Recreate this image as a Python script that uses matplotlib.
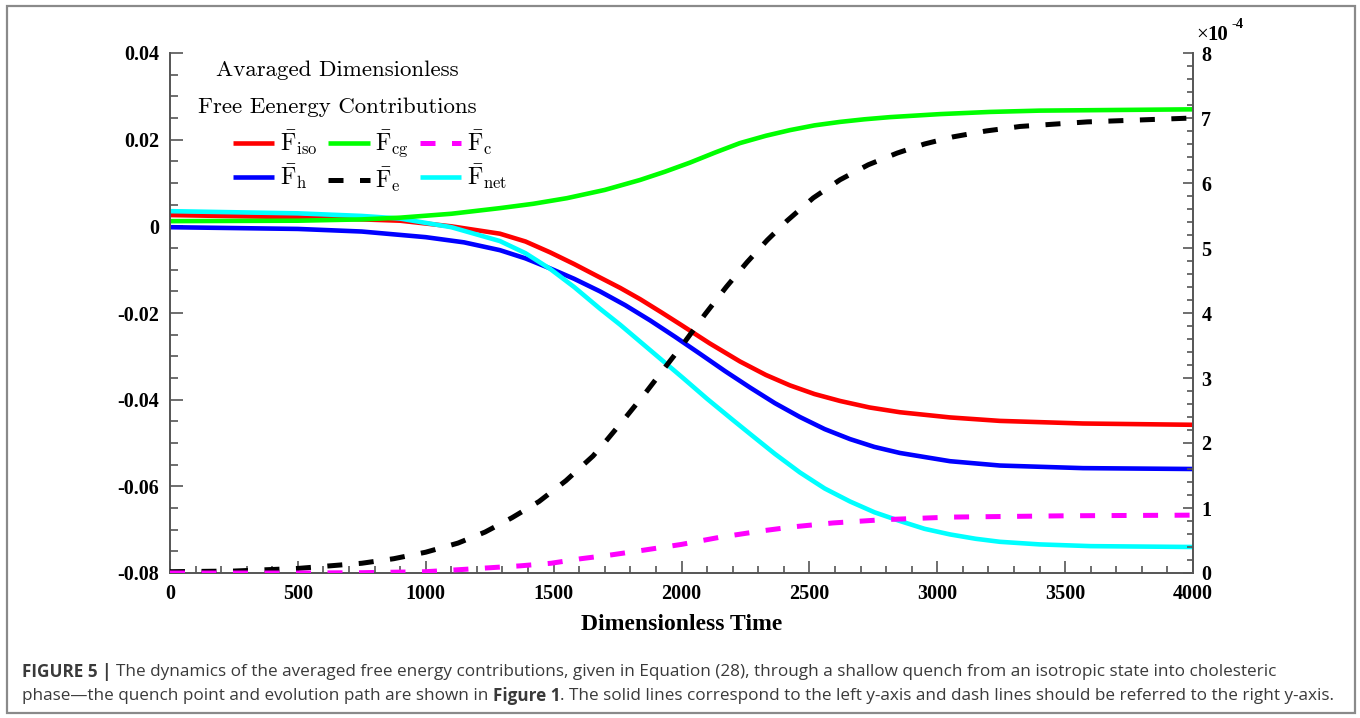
import numpy as np
import matplotlib
matplotlib.use("Agg")
import matplotlib.pyplot as plt
from matplotlib.patches import Rectangle
from matplotlib.ticker import MultipleLocator, FuncFormatter

# Averaged free energy contributions (left axis, solid lines)
t_iso = [0, 500, 900, 1100, 1290, 1390, 1486, 1580, 1681, 1760, 1838, 1920, 2000, 2110, 2229,
         2330, 2424, 2520, 2620, 2735, 2854, 3050, 3245, 3570, 4000]
f_iso = [0.0026, 0.0021, 0.0013, 0.0, -0.0017, -0.0035, -0.006, -0.0087, -0.0118, -0.0142,
         -0.0168, -0.0198, -0.0228, -0.027, -0.0312, -0.0343, -0.0367, -0.0387, -0.0403,
         -0.0418, -0.0429, -0.0441, -0.0449, -0.0455, -0.0458]

t_h = [0, 500, 750, 1000, 1150, 1290, 1390, 1486, 1580, 1681, 1780, 1877, 1975, 2072, 2170,
       2268, 2365, 2463, 2560, 2659, 2754, 2854, 3050, 3245, 3570, 4000]
f_h = [-0.0002, -0.0006, -0.0012, -0.0025, -0.0037, -0.0055, -0.0074, -0.0097, -0.0121, -0.015,
       -0.0182, -0.0217, -0.0255, -0.0294, -0.0334, -0.0372, -0.0408, -0.044, -0.0468, -0.0491,
       -0.0509, -0.0523, -0.0542, -0.0552, -0.0558, -0.056]

t_net = [0, 500, 750, 899, 1100, 1290, 1390, 1486, 1580, 1681, 1760, 1838, 1920, 2006, 2100,
         2201, 2268, 2365, 2463, 2560, 2659, 2755, 2854, 2950, 3050, 3150, 3245, 3400, 3600, 4000]
f_net = [0.0035, 0.003, 0.0024, 0.0018, -0.0002, -0.0034, -0.0062, -0.0098, -0.014, -0.019,
         -0.0227, -0.0266, -0.0307, -0.035, -0.0398, -0.0447, -0.0479, -0.0525, -0.0568,
         -0.0605, -0.0635, -0.066, -0.068, -0.0698, -0.0711, -0.0721, -0.0728, -0.0734,
         -0.0738, -0.074]

t_cg = [0, 500, 750, 900, 1100, 1290, 1420, 1552, 1700, 1838, 1935, 2033, 2130, 2228, 2330,
        2424, 2520, 2620, 2715, 2815, 3011, 3206, 3400, 3597, 4000]
f_cg = [0.0012, 0.0013, 0.0016, 0.002, 0.0029, 0.0042, 0.0052, 0.0065, 0.0084, 0.0107, 0.0126,
        0.0147, 0.017, 0.0192, 0.0209, 0.0222, 0.0233, 0.0241, 0.0247, 0.0252, 0.0259, 0.0264,
        0.0267, 0.0268, 0.027]

# Right axis (dashed lines)
t_e = [0, 250, 500, 750, 875, 1000, 1126, 1232, 1337, 1443, 1548, 1654, 1709, 1787, 1865, 1943,
       2006, 2092, 2175, 2256, 2335, 2413, 2515, 2620, 2730, 2843, 2950, 3062, 3190, 3324, 3586,
       4000]
f_e = [0.02e-4, 0.03e-4, 0.07e-4, 0.15e-4, 0.22e-4, 0.32e-4, 0.46e-4, 0.63e-4, 0.85e-4, 1.1e-4,
       1.42e-4, 1.8e-4, 2.05e-4, 2.42e-4, 2.8e-4, 3.2e-4, 3.52e-4, 3.98e-4, 4.4e-4, 4.78e-4,
       5.12e-4, 5.42e-4, 5.77e-4, 6.05e-4, 6.28e-4, 6.46e-4, 6.6e-4, 6.71e-4, 6.8e-4, 6.87e-4,
       6.94e-4, 7.0e-4]

t_c = [0, 500, 750, 1000, 1126, 1247, 1369, 1490, 1607, 1728, 1850, 2000, 2150, 2318, 2436,
       2592, 2788, 3050, 3500, 4000]
f_c = [0.0, 0.0, 0.005e-4, 0.02e-4, 0.05e-4, 0.08e-4, 0.11e-4, 0.15e-4, 0.22e-4, 0.28e-4,
       0.35e-4, 0.44e-4, 0.55e-4, 0.65e-4, 0.71e-4, 0.77e-4, 0.82e-4, 0.86e-4, 0.88e-4, 0.89e-4]

W, H = 1360, 718
fig = plt.figure(figsize=(W / 100, H / 100), dpi=100)
ax = fig.add_axes([170 / W, 1 - 573 / H, (1193 - 170) / W, (573 - 53) / H])
ax2 = ax.twinx()

tick_font = dict(family="Liberation Serif", weight="bold", size=14.5)
spine_col = "#555555"

solid = dict(lw=3.3, solid_capstyle="butt", solid_joinstyle="round")
dash = dict(lw=3.6, ls=(0, (3.0, 3.3)), dash_capstyle="butt")
l_iso, = ax.plot(t_iso, f_iso, color="#ff0000", **solid)
l_h, = ax.plot(t_h, f_h, color="#0000ff", **solid)
l_net, = ax.plot(t_net, f_net, color="#00ffff", **solid)
l_cg, = ax.plot(t_cg, f_cg, color="#00ff00", **solid)
l_e, = ax2.plot(t_e, f_e, color="black", **dash)
l_c, = ax2.plot(t_c, f_c, color="#ff00ff", **dash)

ax.set_xlim(0, 4000)
ax.set_ylim(-0.08, 0.04)
ax2.set_ylim(0, 8e-4)

ax.xaxis.set_major_locator(MultipleLocator(500))
ax.xaxis.set_minor_locator(MultipleLocator(100))
ax.yaxis.set_major_locator(MultipleLocator(0.02))
ax.yaxis.set_minor_locator(MultipleLocator(0.005))
ax2.yaxis.set_major_locator(MultipleLocator(1e-4))
ax2.yaxis.set_minor_locator(MultipleLocator(0.2e-4))

ax.xaxis.set_major_formatter(FuncFormatter(lambda v, p: f"{int(round(v))}"))
ax.yaxis.set_major_formatter(FuncFormatter(lambda v, p: "0" if abs(v) < 1e-9 else f"{round(v, 3):g}"))
ax2.yaxis.set_major_formatter(FuncFormatter(lambda v, p: f"{int(round(v * 1e4))}"))

for a in (ax, ax2):
    for s in a.spines.values():
        s.set_color(spine_col)
        s.set_linewidth(1.4)
    a.spines["top"].set_visible(False)
ax.spines["right"].set_visible(False)
ax2.spines["left"].set_visible(False)
ax2.spines["bottom"].set_visible(False)

ax.tick_params(axis="both", which="both", direction="in", color=spine_col, width=1.2)
ax.tick_params(axis="x", which="major", length=9, pad=8)
ax.tick_params(axis="x", which="minor", length=5)
ax.tick_params(axis="y", which="major", length=9, pad=8)
ax.tick_params(axis="y", which="minor", length=6)
ax.tick_params(top=False, right=False)
ax2.tick_params(axis="y", which="both", direction="in", color=spine_col, width=1.2)
ax2.tick_params(axis="y", which="major", length=7, pad=6)
ax2.tick_params(axis="y", which="minor", length=4)
for lab in ax.get_xticklabels() + ax.get_yticklabels() + ax2.get_yticklabels():
    lab.set_fontproperties(tick_font)

ax.set_xlabel("Dimensionless Time", family="Liberation Serif", weight="bold", size=17, labelpad=7)

# offset marker for the right axis
fig.text(1196 / W, 1 - 35 / H, "×", family="Liberation Serif", size=15, va="center", ha="left")
fig.text(1207 / W, 1 - 35 / H, "10", family="Liberation Serif", weight="bold", size=15,
         va="center", ha="left")
fig.text(1231 / W, 1 - 25 / H, "-4", family="Liberation Serif", weight="bold", size=10.5,
         va="center", ha="left")

# title block and legend
fig.text(337 / W, 1 - 70 / H, "Avaraged Dimensionless", family="cmr10", size=16.5,
         ha="center", va="center")
fig.text(337 / W, 1 - 107 / H, "Free Eenergy Contributions", family="cmr10", size=16.5,
         ha="center", va="center")

plt.rcParams["mathtext.fontset"] = "cm"
handles = [l_iso, l_h, l_cg, l_e, l_c, l_net]
labels = [r"$\bar{\mathrm{F}}_{\mathrm{iso}}$", r"$\bar{\mathrm{F}}_{\mathrm{h}}$",
          r"$\bar{\mathrm{F}}_{\mathrm{cg}}$", r"$\bar{\mathrm{F}}_{\mathrm{e}}$",
          r"$\bar{\mathrm{F}}_{\mathrm{c}}$", r"$\bar{\mathrm{F}}_{\mathrm{net}}$"]
leg = ax2.legend(handles, labels, ncol=3, frameon=False, fontsize=17,
                 loc="upper left", bbox_to_anchor=(233 / W, 1 - 128 / H),
                 bbox_transform=fig.transFigure, borderpad=0, borderaxespad=0,
                 handlelength=1.75, handletextpad=0.25, columnspacing=0.45,
                 labelspacing=0.25)

# caption box
fig.patches.append(Rectangle((7 / W, 1 - 713 / H), (1355 - 7) / W, (713 - 6) / H,
                             transform=fig.transFigure, fill=False, ec="#8a8a8a", lw=1.6))

cap_font = dict(family="Open Sans", size=12.3, color="#3a3a3a", va="center", ha="left")
renderer = fig.canvas.get_renderer()


def caption_line(x_px, y_px, pieces):
    x = x_px / W
    for txt, weight in pieces:
        t = fig.text(x, 1 - y_px / H, txt, fontweight=weight, **cap_font)
        x += t.get_window_extent(renderer=renderer).width / W


caption_line(22, 672, [
    ("FIGURE 5 | ", "bold"),
    ("The dynamics of the averaged free energy contributions, given in Equation (28), "
     "through a shallow quench from an isotropic state into cholesteric", "normal"),
])
caption_line(22, 696, [
    ("phase\u2014the quench point and evolution path are shown in ", "normal"),
    ("Figure 1", "bold"),
    (". The solid lines correspond to the left y-axis and dash lines should be referred "
     "to the right y-axis.", "normal"),
])

fig.savefig("out.png", dpi=100)
